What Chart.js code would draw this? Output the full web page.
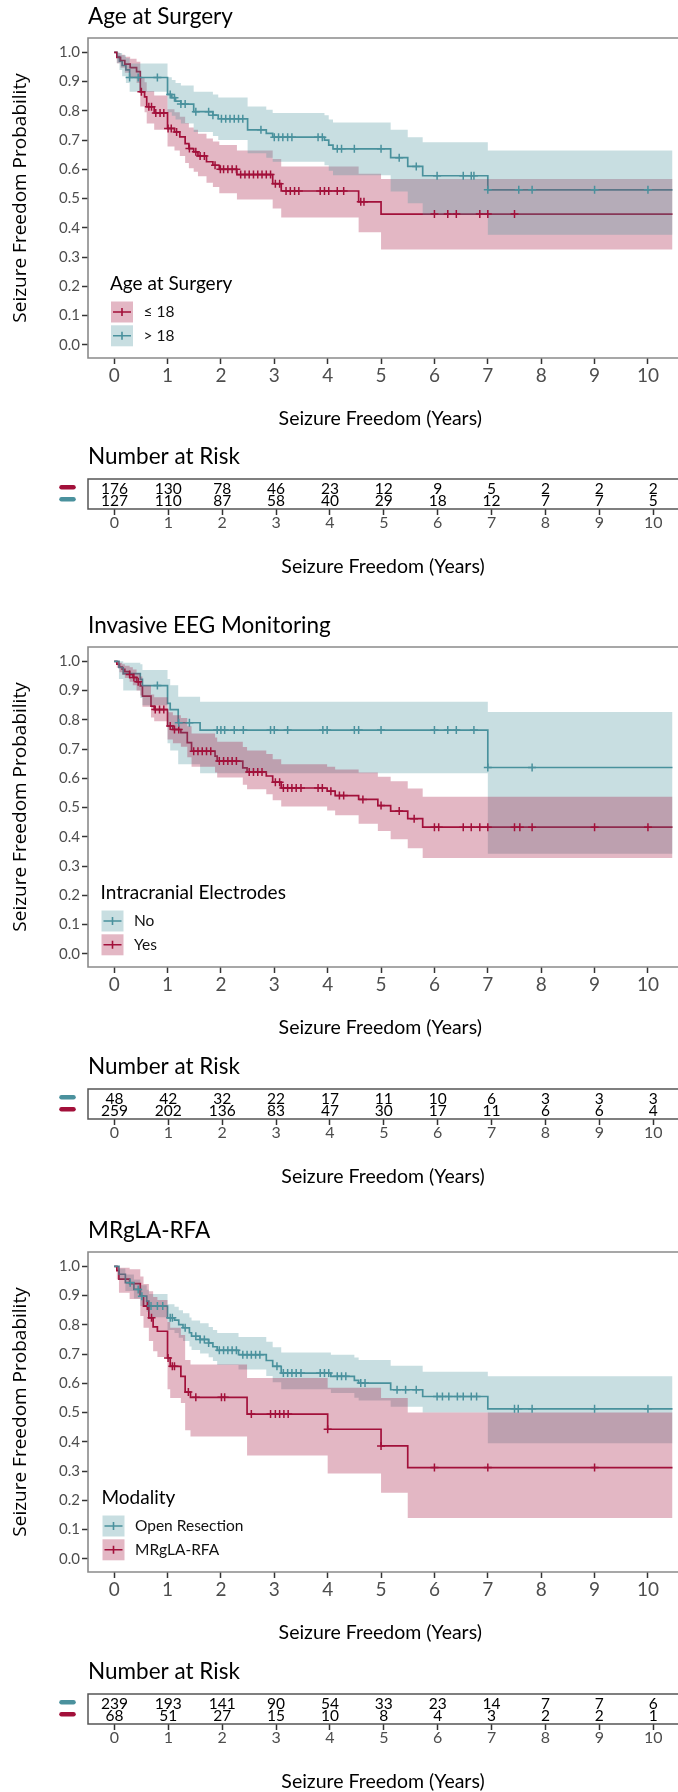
<!DOCTYPE html>
<html>
<head>
<meta charset="utf-8">
<script src="https://cdn.jsdelivr.net/npm/chart.js@4.4.1/dist/chart.umd.min.js"></script>
<style>
  body { margin: 0; background: #fff; }
  #page { position: relative; width: 678px; height: 1792px; overflow: hidden; }
  canvas { position: absolute; left: 0; }
</style>
</head>
<body>
<div id="page">
  <canvas id="km1" width="678" height="440" style="top:0px"></canvas>
  <canvas id="risk1" width="678" height="150" style="top:440px"></canvas>
  <canvas id="km2" width="678" height="440" style="top:609px"></canvas>
  <canvas id="risk2" width="678" height="150" style="top:1050px"></canvas>
  <canvas id="km3" width="678" height="440" style="top:1214px"></canvas>
  <canvas id="risk3" width="678" height="150" style="top:1655px"></canvas>
</div>
<script>
// axis ticks shared by every panel
const xTicks = [0, 1, 2, 3, 4, 5, 6, 7, 8, 9, 10];
const yTicks = [0, 0.1, 0.2, 0.3, 0.4, 0.5, 0.6, 0.7, 0.8, 0.9, 1.0];
const riskTimes = [0, 1, 2, 3, 4, 5, 6, 7, 8, 9, 10];
const followUpEnd = 11;

// Age at Surgery: <= 18
const ageLeTime  = [0, 0.05, 0.12, 0.2, 0.3, 0.42, 0.49, 0.57, 0.61, 0.75, 1.0, 1.13, 1.23, 1.33, 1.4, 1.49, 1.57, 1.73, 1.85, 1.97, 2.3, 2.97, 3.13, 4.58, 5.0];
const ageLeSurv  = [1, 0.983, 0.972, 0.96, 0.948, 0.934, 0.865, 0.848, 0.814, 0.793, 0.74, 0.728, 0.711, 0.688, 0.671, 0.66, 0.646, 0.626, 0.614, 0.6, 0.582, 0.551, 0.526, 0.489, 0.447];
const ageLeLower = [1, 0.963, 0.947, 0.93, 0.913, 0.895, 0.815, 0.795, 0.757, 0.735, 0.678, 0.664, 0.646, 0.622, 0.604, 0.592, 0.576, 0.554, 0.54, 0.518, 0.497, 0.466, 0.435, 0.385, 0.326];
const ageLeUpper = [1, 0.998, 0.992, 0.985, 0.978, 0.968, 0.912, 0.898, 0.868, 0.852, 0.805, 0.795, 0.78, 0.758, 0.743, 0.735, 0.722, 0.705, 0.695, 0.683, 0.664, 0.635, 0.61, 0.585, 0.567];
const ageLeCensor = [0.51, 0.65, 0.7, 0.78, 0.86, 0.93, 1.01, 1.07, 1.17, 1.41, 1.53, 1.61, 1.69, 1.89, 1.99, 2.05, 2.13, 2.21, 2.29, 2.37, 2.45, 2.53, 2.61, 2.69, 2.77, 2.85, 2.93, 3.02, 3.1, 3.22, 3.3, 3.38, 3.46, 3.86, 3.94, 4.02, 4.18, 4.3, 4.62, 4.68, 6.0, 6.25, 6.41, 6.85, 7.0, 7.5];
const ageLeRisk = [176, 130, 78, 46, 23, 12, 9, 5, 2, 2, 2];

// Age at Surgery: > 18
const ageGtTime  = [0, 0.05, 0.1, 0.15, 0.22, 0.29, 1.0, 1.08, 1.15, 1.25, 1.49, 1.85, 1.95, 2.5, 2.85, 2.97, 3.94, 4.02, 4.1, 5.18, 5.5, 5.78, 7.0];
const ageGtSurv  = [1, 0.985, 0.97, 0.955, 0.94, 0.914, 0.856, 0.845, 0.833, 0.823, 0.797, 0.785, 0.773, 0.735, 0.723, 0.71, 0.70, 0.683, 0.67, 0.64, 0.61, 0.578, 0.53];
const ageGtLower = [1, 0.963, 0.94, 0.918, 0.895, 0.865, 0.795, 0.783, 0.77, 0.757, 0.728, 0.714, 0.70, 0.655, 0.64, 0.626, 0.614, 0.595, 0.58, 0.524, 0.484, 0.444, 0.376];
const ageGtUpper = [1, 1, 0.998, 0.99, 0.98, 0.962, 0.915, 0.905, 0.895, 0.887, 0.865, 0.856, 0.846, 0.815, 0.804, 0.793, 0.785, 0.77, 0.76, 0.735, 0.71, 0.693, 0.664];
const ageGtCensor = [0.29, 0.45, 0.81, 1.05, 1.13, 1.25, 1.33, 1.53, 1.77, 1.85, 2.01, 2.09, 2.17, 2.25, 2.33, 2.41, 2.75, 3.0, 3.08, 3.16, 3.25, 3.33, 3.82, 3.9, 4.18, 4.26, 4.5, 5.0, 5.34, 5.66, 6.05, 6.54, 6.69, 6.74, 7.0, 7.58, 7.83, 9.0, 10.0];
const ageGtRisk = [127, 110, 87, 58, 40, 29, 18, 12, 7, 7, 5];

// Invasive EEG: No
const eegNoTime  = [0, 0.09, 0.17, 0.49, 0.53, 1.0, 1.05, 1.2, 1.61, 7.0];
const eegNoSurv  = [1, 0.979, 0.958, 0.938, 0.917, 0.856, 0.835, 0.79, 0.765, 0.637];
const eegNoLower = [1, 0.94, 0.9, 0.875, 0.85, 0.72, 0.695, 0.648, 0.617, 0.342];
const eegNoUpper = [1, 1, 0.995, 0.99, 0.97, 0.94, 0.918, 0.879, 0.862, 0.827];
const eegNoCensor = [0.81, 1.21, 1.41, 1.93, 2.0, 2.07, 2.25, 2.42, 2.93, 3.0, 3.25, 3.91, 3.99, 4.5, 4.58, 5.0, 6.0, 6.25, 6.41, 6.74, 7.0, 7.83];
const eegNoRisk = [48, 42, 32, 22, 17, 11, 10, 6, 3, 3, 3];

// Invasive EEG: Yes
const eegYesTime  = [0, 0.05, 0.1, 0.15, 0.2, 0.29, 0.35, 0.42, 0.49, 0.53, 0.69, 0.75, 1.0, 1.1, 1.25, 1.37, 1.45, 1.89, 1.93, 2.41, 2.49, 2.85, 2.97, 3.13, 3.99, 4.14, 4.58, 4.94, 5.18, 5.5, 5.78];
const eegYesSurv  = [1, 0.99, 0.98, 0.973, 0.965, 0.955, 0.945, 0.93, 0.916, 0.881, 0.847, 0.835, 0.779, 0.767, 0.756, 0.722, 0.693, 0.676, 0.659, 0.636, 0.622, 0.608, 0.587, 0.567, 0.556, 0.541, 0.528, 0.507, 0.488, 0.462, 0.433];
const eegYesLower = [1, 0.978, 0.963, 0.953, 0.943, 0.93, 0.918, 0.9, 0.883, 0.845, 0.808, 0.795, 0.733, 0.72, 0.708, 0.672, 0.64, 0.62, 0.603, 0.578, 0.563, 0.546, 0.525, 0.504, 0.49, 0.474, 0.445, 0.42, 0.392, 0.361, 0.328];
const eegYesUpper = [1, 1, 0.995, 0.99, 0.985, 0.98, 0.972, 0.96, 0.948, 0.917, 0.887, 0.877, 0.826, 0.816, 0.806, 0.778, 0.753, 0.74, 0.725, 0.707, 0.695, 0.683, 0.665, 0.648, 0.64, 0.63, 0.62, 0.605, 0.59, 0.565, 0.537];
const eegYesCensor = [0.29, 0.37, 0.45, 0.77, 0.85, 0.93, 1.05, 1.13, 1.21, 1.49, 1.57, 1.65, 1.73, 1.81, 1.97, 2.05, 2.13, 2.21, 2.29, 2.53, 2.61, 2.69, 2.77, 3.02, 3.1, 3.17, 3.25, 3.33, 3.41, 3.5, 3.82, 3.9, 4.06, 4.22, 4.3, 4.66, 5.0, 5.34, 5.62, 6.0, 6.08, 6.54, 6.69, 6.85, 7.0, 7.5, 7.6, 7.83, 9.0, 10.0];
const eegYesRisk = [259, 202, 136, 83, 47, 30, 17, 11, 6, 6, 4];

// Modality: Open Resection
const openTime  = [0, 0.09, 0.21, 0.37, 0.49, 0.61, 0.65, 1.0, 1.13, 1.21, 1.29, 1.41, 1.45, 1.61, 1.77, 1.85, 1.93, 2.33, 2.85, 2.97, 3.13, 4.06, 4.5, 4.58, 5.18, 5.78, 7.0];
const openSurv  = [1, 0.973, 0.944, 0.921, 0.898, 0.881, 0.864, 0.824, 0.816, 0.801, 0.79, 0.773, 0.761, 0.75, 0.738, 0.725, 0.713, 0.698, 0.678, 0.658, 0.635, 0.624, 0.61, 0.601, 0.578, 0.555, 0.513];
const openLower = [1, 0.953, 0.916, 0.89, 0.864, 0.845, 0.826, 0.782, 0.772, 0.756, 0.745, 0.726, 0.714, 0.702, 0.689, 0.676, 0.663, 0.647, 0.625, 0.604, 0.58, 0.567, 0.551, 0.541, 0.52, 0.5, 0.395];
const openUpper = [1, 0.993, 0.972, 0.955, 0.935, 0.92, 0.905, 0.87, 0.862, 0.85, 0.84, 0.825, 0.815, 0.805, 0.793, 0.782, 0.772, 0.758, 0.742, 0.723, 0.705, 0.698, 0.688, 0.68, 0.66, 0.64, 0.624];
const openCensor = [0.3, 0.45, 0.52, 0.69, 0.81, 0.91, 1.05, 1.09, 1.33, 1.53, 1.61, 1.69, 1.77, 1.97, 2.05, 2.13, 2.21, 2.29, 2.41, 2.49, 2.57, 2.65, 2.73, 3.05, 3.17, 3.25, 3.33, 3.41, 3.5, 3.86, 3.94, 4.02, 4.18, 4.26, 4.34, 4.62, 4.7, 5.3, 5.46, 5.66, 6.05, 6.15, 6.27, 6.43, 6.54, 6.69, 6.79, 7.5, 7.57, 7.83, 9.0, 10.0];
const openRisk = [239, 193, 141, 90, 54, 33, 23, 14, 7, 7, 6];

// Modality: MRgLA-RFA
const laserTime  = [0, 0.05, 0.09, 0.29, 0.49, 0.55, 0.65, 0.73, 0.81, 1.0, 1.05, 1.25, 1.33, 1.43, 2.49, 4.0, 5.0, 5.5];
const laserSurv  = [1, 0.985, 0.956, 0.941, 0.898, 0.864, 0.824, 0.793, 0.778, 0.687, 0.658, 0.624, 0.57, 0.552, 0.495, 0.443, 0.386, 0.312];
const laserLower = [1, 0.955, 0.91, 0.888, 0.83, 0.79, 0.745, 0.71, 0.69, 0.58, 0.55, 0.533, 0.44, 0.418, 0.353, 0.292, 0.226, 0.14];
const laserUpper = [1, 1, 0.995, 0.99, 0.965, 0.94, 0.915, 0.895, 0.885, 0.81, 0.79, 0.765, 0.68, 0.664, 0.618, 0.585, 0.55, 0.5];
const laserCensor = [0.62, 0.7, 1.01, 1.09, 1.13, 1.39, 1.53, 2.01, 2.07, 2.57, 2.93, 3.02, 3.1, 3.18, 3.26, 4.0, 5.0, 6.0, 7.0, 9.0];
const laserRisk = [68, 51, 27, 15, 10, 8, 4, 3, 2, 2, 1];

const RED = '#A2103A';
const TEAL = '#4A919D';
const RED_BAND = 'rgba(162, 16, 58, 0.3)';
const TEAL_BAND = 'rgba(74, 145, 157, 0.3)';
const SANS = "Lato, 'Liberation Sans', sans-serif";
Chart.defaults.font.family = SANS;

const panels = [
  {
    km: 'km1', risk: 'risk1', title: 'Age at Surgery', legendTitle: 'Age at Surgery', legendLeft: 23,
    strata: [
      { label: '≤ 18', color: RED, band: RED_BAND, time: ageLeTime, surv: ageLeSurv, lower: ageLeLower, upper: ageLeUpper, censor: ageLeCensor, counts: ageLeRisk },
      { label: '> 18', color: TEAL, band: TEAL_BAND, time: ageGtTime, surv: ageGtSurv, lower: ageGtLower, upper: ageGtUpper, censor: ageGtCensor, counts: ageGtRisk }
    ]
  },
  {
    km: 'km2', risk: 'risk2', title: 'Invasive EEG Monitoring', legendTitle: 'Intracranial Electrodes', legendLeft: 13.5,
    strata: [
      { label: 'No', color: TEAL, band: TEAL_BAND, time: eegNoTime, surv: eegNoSurv, lower: eegNoLower, upper: eegNoUpper, censor: eegNoCensor, counts: eegNoRisk },
      { label: 'Yes', color: RED, band: RED_BAND, time: eegYesTime, surv: eegYesSurv, lower: eegYesLower, upper: eegYesUpper, censor: eegYesCensor, counts: eegYesRisk }
    ]
  },
  {
    km: 'km3', risk: 'risk3', title: 'MRgLA-RFA', legendTitle: 'Modality', legendLeft: 14.5,
    strata: [
      { label: 'Open Resection', color: TEAL, band: TEAL_BAND, time: openTime, surv: openSurv, lower: openLower, upper: openUpper, censor: openCensor, counts: openRisk },
      { label: 'MRgLA-RFA', color: RED, band: RED_BAND, time: laserTime, surv: laserSurv, lower: laserLower, upper: laserUpper, censor: laserCensor, counts: laserRisk }
    ]
  }
];

function stepPoints(times, values) {
  const pts = times.map((t, i) => ({ x: t, y: values[i] }));
  pts.push({ x: followUpEnd, y: values[values.length - 1] });
  return pts;
}

// value of the step curve at time t (censor marks sit on the curve)
function survAt(times, surv, t) {
  let v = surv[0];
  times.forEach((ti, i) => { if (ti <= t) v = surv[i]; });
  return v;
}

// box around the plotting area (right side is cut off in the figure)
const frame = {
  id: 'frame',
  afterDraw(chart, args, opts) {
    const { ctx, chartArea: a } = chart;
    ctx.save();
    ctx.strokeStyle = opts.color;
    ctx.lineWidth = opts.width;
    ctx.beginPath();
    ctx.moveTo(chart.width, a.top);
    ctx.lineTo(a.left, a.top);
    ctx.lineTo(a.left, a.bottom);
    ctx.lineTo(chart.width, a.bottom);
    ctx.stroke();
    ctx.restore();
  }
};

// legend drawn inside the plot, ggplot style keys
const plotLegend = {
  id: 'plotLegend',
  afterDraw(chart, args, opts) {
    const { ctx, chartArea: a } = chart;
    const x0 = a.left + opts.left;
    ctx.save();
    ctx.textBaseline = 'middle';
    ctx.fillStyle = '#000';
    ctx.font = '19px ' + SANS;
    ctx.fillText(opts.title, x0 - 1, a.top + 245.7);
    opts.items.forEach((it, i) => {
      const ky = a.top + 263.5 + i * 23.8;
      ctx.fillStyle = it.band;
      ctx.fillRect(x0, ky, 22, 21);
      ctx.strokeStyle = it.color;
      ctx.lineWidth = 1.6;
      ctx.beginPath();
      ctx.moveTo(x0 + 2, ky + 10.5);
      ctx.lineTo(x0 + 20, ky + 10.5);
      ctx.moveTo(x0 + 11, ky + 6.5);
      ctx.lineTo(x0 + 11, ky + 14.5);
      ctx.stroke();
      ctx.fillStyle = '#111';
      ctx.font = '15.5px ' + SANS;
      ctx.fillText(it.label, x0 + 32.5, ky + 10.5);
    });
    ctx.restore();
  }
};

function drawSurvival(panel) {
  const datasets = [];
  panel.strata.forEach((g, k) => {
    datasets.push({
      data: stepPoints(g.time, g.surv), borderColor: g.color, borderWidth: 1.7,
      stepped: 'before', pointRadius: 0, fill: false, order: 10
    });
    datasets.push({
      data: stepPoints(g.time, g.upper), borderWidth: 0, borderColor: 'transparent',
      backgroundColor: g.band, stepped: 'before', pointRadius: 0, fill: '+1', order: 5 - k
    });
    datasets.push({
      data: stepPoints(g.time, g.lower), borderWidth: 0, borderColor: 'transparent',
      stepped: 'before', pointRadius: 0, fill: false, order: 5 - k
    });
    datasets.push({
      data: g.censor.map(t => ({ x: t, y: survAt(g.time, g.surv, t) })),
      showLine: false, pointStyle: 'cross', pointRadius: 4, pointBorderWidth: 1.5,
      borderColor: g.color, pointBorderColor: g.color, order: 1
    });
  });

  const tickGrid = { drawOnChartArea: false, drawTicks: true, tickLength: 6, tickColor: '#333', tickWidth: 1.5 };

  new Chart(document.getElementById(panel.km), {
    type: 'line',
    data: { datasets },
    plugins: [frame, plotLegend],
    options: {
      responsive: false,
      animation: false,
      events: [],
      layout: { padding: 0 },
      plugins: {
        legend: { display: false },
        tooltip: { enabled: false },
        title: {
          display: true, text: panel.title, align: 'start', fullSize: false, color: '#000',
          font: { size: 22.5, weight: 'normal' }, padding: { top: 3.2, bottom: 7.8 }
        },
        frame: { color: '#8a8a8a', width: 1.6 },
        plotLegend: {
          title: panel.legendTitle, left: panel.legendLeft,
          items: panel.strata.map(g => ({ label: g.label, color: g.color, band: g.band }))
        }
      },
      scales: {
        x: {
          type: 'linear', min: -0.49, max: 10.46,
          afterBuildTicks: s => { s.ticks = xTicks.map(v => ({ value: v })); },
          afterFit: s => { s.height = 82; },
          grid: tickGrid,
          border: { display: false },
          ticks: { color: '#4d4d4d', font: { size: 19 }, padding: 0, maxRotation: 0, autoSkip: false },
          title: { display: true, text: 'Seizure Freedom (Years)', color: '#000', font: { size: 19.5 }, padding: { bottom: 9.2 } }
        },
        y: {
          type: 'linear', min: -0.045, max: 1.049,
          afterBuildTicks: s => { s.ticks = yTicks.map(v => ({ value: v })); },
          afterFit: s => { s.width = 88; },
          grid: tickGrid,
          border: { display: false },
          ticks: { color: '#4d4d4d', font: { size: 15 }, padding: 2, callback: v => v.toFixed(1) },
          title: {
            display: true, text: 'Seizure Freedom Probability', color: '#000',
            font: { family: "'Open Sans', sans-serif", size: 19 }, padding: { top: 9.3 }
          }
        }
      }
    }
  });
}

// numbers at risk written at each time through the chart's scales
const riskRows = [2, 1];
const riskNumbers = {
  id: 'riskNumbers',
  afterDatasetsDraw(chart) {
    const { ctx } = chart;
    const yScale = chart.scales.y;
    ctx.save();
    chart.data.datasets.forEach((ds, i) => {
      const meta = chart.getDatasetMeta(i);
      ctx.fillStyle = '#000';
      ctx.font = '15.5px ' + SANS;
      ctx.textAlign = 'center';
      ctx.textBaseline = 'middle';
      meta.data.forEach((pt, j) => ctx.fillText(String(ds.counts[j]), pt.x, pt.y));
      const yb = yScale.getPixelForValue(riskRows[i]) - 1.5;
      ctx.strokeStyle = ds.rowColor;
      ctx.lineWidth = 4.5;
      ctx.lineCap = 'round';
      ctx.beginPath();
      ctx.moveTo(61.5, yb);
      ctx.lineTo(73.5, yb);
      ctx.stroke();
    });
    ctx.restore();
  }
};

function drawRisk(panel) {
  new Chart(document.getElementById(panel.risk), {
    type: 'line',
    data: {
      datasets: panel.strata.map((g, k) => ({
        data: riskTimes.map(t => ({ x: t, y: riskRows[k] })),
        counts: g.counts, rowColor: g.color, showLine: false, pointRadius: 0
      }))
    },
    plugins: [frame, riskNumbers],
    options: {
      responsive: false,
      animation: false,
      events: [],
      layout: { padding: 0 },
      plugins: {
        legend: { display: false },
        tooltip: { enabled: false },
        title: {
          display: true, text: 'Number at Risk', align: 'start', fullSize: false, color: '#000',
          font: { size: 22.5, weight: 'normal' }, padding: { top: 3, bottom: 9 }
        },
        frame: { color: '#555', width: 1.5 }
      },
      scales: {
        x: {
          type: 'linear', min: -0.49, max: 10.46,
          afterBuildTicks: s => { s.ticks = xTicks.map(v => ({ value: v })); },
          afterFit: s => { s.height = 81; },
          grid: { drawOnChartArea: false, drawTicks: true, tickLength: 6, tickColor: '#333', tickWidth: 1.5 },
          border: { display: false },
          ticks: { color: '#4d4d4d', font: { size: 16, lineHeight: 1 }, padding: 0, maxRotation: 0, autoSkip: false },
          title: { display: true, text: 'Seizure Freedom (Years)', color: '#000', font: { size: 19.5 }, padding: { bottom: 11.3 } }
        },
        y: {
          type: 'linear', min: 0.31, max: 2.81,
          afterFit: s => { s.width = 88; },
          grid: { display: false },
          border: { display: false },
          ticks: { display: false }
        }
      }
    }
  });
}

panels.forEach(p => { drawSurvival(p); drawRisk(p); });
</script>
</body>
</html>
